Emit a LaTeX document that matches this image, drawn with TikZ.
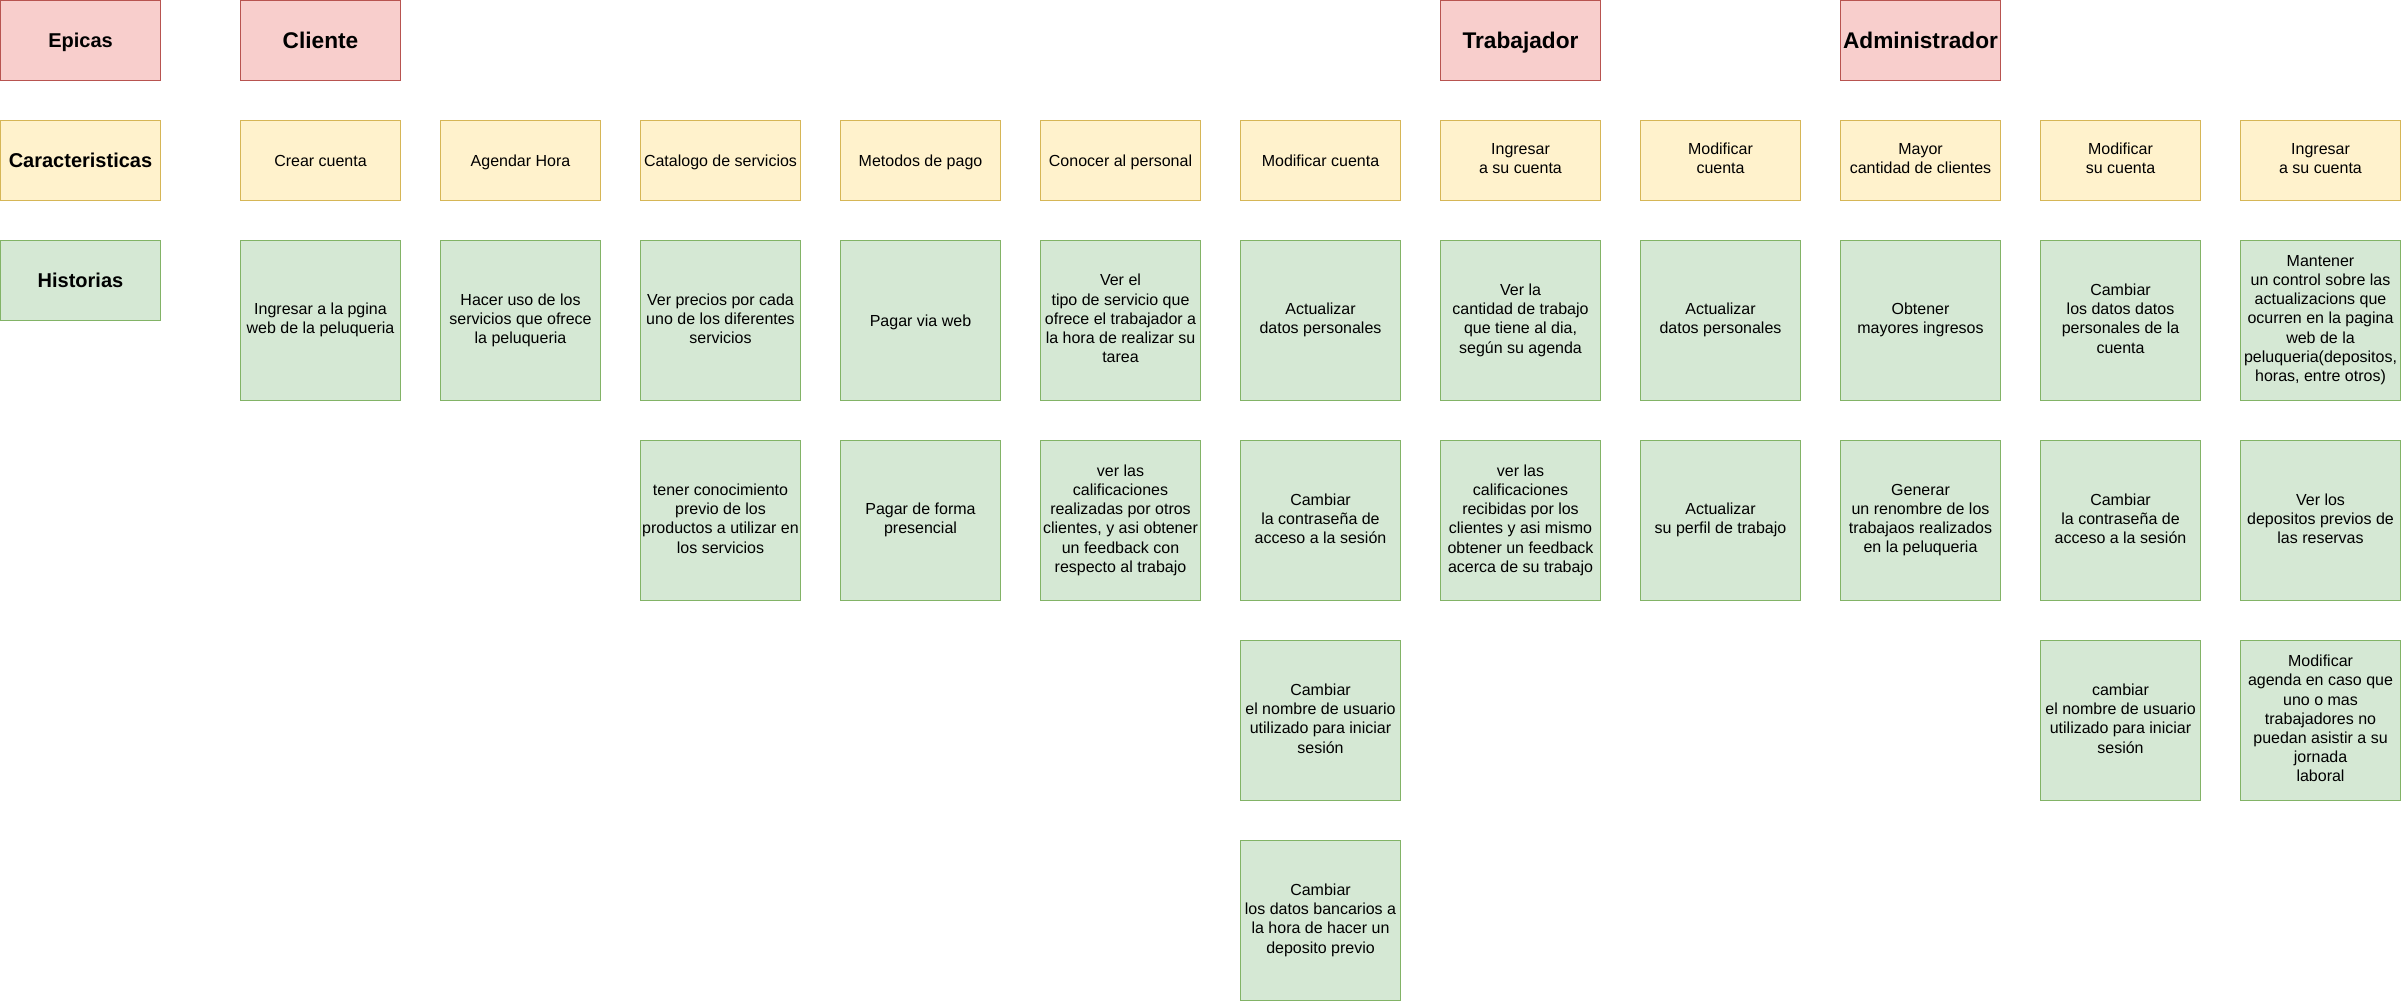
\documentclass[tikz,border=0pt]{standalone}
\usepackage{fontspec}
\setmainfont{Liberation Sans}
\definecolor{epicfill}{HTML}{F8CECC}
\definecolor{epicline}{HTML}{B85450}
\definecolor{featfill}{HTML}{FFF2CC}
\definecolor{featline}{HTML}{D6B656}
\definecolor{storyfill}{HTML}{D5E8D4}
\definecolor{storyline}{HTML}{82B366}
\newcommand{\cardstrut}{\rule[-0.2535em]{0pt}{1.2em}}
\begin{document}
\begin{tikzpicture}[x=0.75pt,y=-0.75pt]
  \tikzstyle{card}=[rectangle,draw,line width=0.75pt,align=center,inner sep=1pt,minimum width=120pt,
    font=\fontsize{12pt}{14.4pt}\selectfont,execute at begin node=\cardstrut,execute at end node=\cardstrut]
  \tikzstyle{epic}=[card,fill=epicfill,draw=epicline,minimum height=60pt]
  \tikzstyle{feature}=[card,fill=featfill,draw=featline,minimum height=60pt]
  \tikzstyle{story}=[card,fill=storyfill,draw=storyline,minimum height=120pt]
  \tikzstyle{rowlabel}=[font=\fontsize{15pt}{18pt}\selectfont\bfseries]
  \tikzstyle{epicname}=[font=\fontsize{17pt}{20.4pt}\selectfont\bfseries]
  \useasboundingbox (-0.5,-0.5) rectangle (2400.5,1001.5);
  % row labels
  \node[epic,rowlabel]    (EP) at (80,40)  {Epicas};
  \node[feature,rowlabel] (CA) at (80,160) {Caracteristicas};
  \node[story,rowlabel,minimum height=60pt] (HI) at (80,280) {Historias};
  % epics
  \node[epic,epicname] (CL) at (320,40)  {Cliente};
  \node[epic,epicname] (TR) at (1520,40) {Trabajador};
  \node[epic,epicname] (AD) at (1920,40) {Administrador};

  % cliente
  \node[feature] (CLcrear)    at (320,160)  {Crear cuenta};
  \node[feature] (CLagendar)  at (520,160)  {Agendar Hora};
  \node[feature] (CLcatalogo) at (720,160)  {Catalogo de servicios};
  \node[feature] (CLpago)     at (920,160)  {Metodos de pago};
  \node[feature] (CLpersonal) at (1120,160) {Conocer al personal};
  \node[feature] (CLmodif)    at (1320,160) {Modificar cuenta};

  \node[story] (CLcrear1)    at (320,320)  {Ingresar a la pgina\\web de la peluqueria};
  \node[story] (CLagendar1)  at (520,320)  {Hacer uso de los\\servicios que ofrece\\la peluqueria};
  \node[story] (CLcatalogo1) at (720,320)  {Ver precios por cada\\uno de los diferentes\\servicios};
  \node[story] (CLcatalogo2) at (720,520)  {tener conocimiento\\previo de los\\productos a utilizar en\\los servicios};
  \node[story] (CLpago1)     at (920,320)  {Pagar via web};
  \node[story] (CLpago2)     at (920,520)  {Pagar de forma\\presencial};
  \node[story] (CLpersonal1) at (1120,320) {Ver el\\tipo de servicio que\\ofrece el trabajador a\\la hora de realizar su\\tarea};
  \node[story] (CLpersonal2) at (1120,520) {ver las\\calificaciones\\realizadas por otros\\clientes, y asi obtener\\un feedback con\\respecto al trabajo};
  \node[story] (CLmodif1)    at (1320,320) {Actualizar\\datos personales};
  \node[story] (CLmodif2)    at (1320,520) {Cambiar\\la contraseña de\\acceso a la sesión};
  \node[story] (CLmodif3)    at (1320,720) {Cambiar\\el nombre de usuario\\utilizado para iniciar\\sesión};
  \node[story] (CLmodif4)    at (1320,920) {Cambiar\\los datos bancarios a\\la hora de hacer un\\deposito previo};

  % trabajador
  \node[feature] (TRingresar) at (1520,160) {Ingresar\\a su cuenta};
  \node[feature] (TRmodif)    at (1720,160) {Modificar\\cuenta};

  \node[story] (TRingresar1) at (1520,320) {Ver la\\cantidad de trabajo\\que tiene al dia,\\según su agenda};
  \node[story] (TRingresar2) at (1520,520) {ver las\\calificaciones\\recibidas por los\\clientes y asi mismo\\obtener un feedback\\acerca de su trabajo};
  \node[story] (TRmodif1)    at (1720,320) {Actualizar\\datos personales};
  \node[story] (TRmodif2)    at (1720,520) {Actualizar\\su perfil de trabajo};

  % administrador
  \node[feature] (ADmayor)    at (1920,160) {Mayor\\cantidad de clientes};
  \node[feature] (ADmodif)    at (2120,160) {Modificar\\su cuenta};
  \node[feature] (ADingresar) at (2320,160) {Ingresar\\a su cuenta};

  \node[story] (ADmayor1)    at (1920,320) {Obtener\\mayores ingresos};
  \node[story] (ADmayor2)    at (1920,520) {Generar\\un renombre de los\\trabajaos realizados\\en la peluqueria};
  \node[story] (ADmodif1)    at (2120,320) {Cambiar\\los datos datos\\personales de la\\cuenta};
  \node[story] (ADmodif2)    at (2120,520) {Cambiar\\la contraseña de\\acceso a la sesión};
  \node[story] (ADmodif3)    at (2120,720) {cambiar\\el nombre de usuario\\utilizado para iniciar\\sesión};
  \node[story] (ADingresar1) at (2320,320) {Mantener\\un control sobre las\\actualizacions que\\ocurren en la pagina\\web de la\\peluqueria(depositos,\\horas, entre otros)};
  \node[story] (ADingresar2) at (2320,520) {Ver los\\depositos previos de\\las reservas};
  \node[story] (ADingresar3) at (2320,720) {Modificar\\agenda en caso que\\uno o mas\\trabajadores no\\puedan asistir a su\\jornada\\laboral};

\end{tikzpicture}
\end{document}
